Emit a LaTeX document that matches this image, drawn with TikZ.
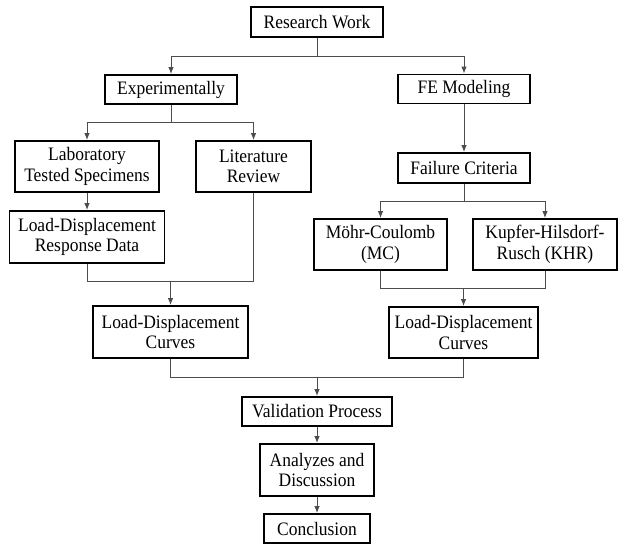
\documentclass[tikz,border=0pt]{standalone}
\usepackage{fontspec}
\setmainfont{Liberation Serif}[FakeStretch=0.92]
\usetikzlibrary{arrows.meta}
\tikzset{
  box/.style={draw=black, line width=1.8pt, inner sep=0pt, align=center,
    font=\fontsize{19}{20.5}\selectfont},
  conn/.style={draw=black!70, line width=1pt},
  arr/.style={conn, -{Latex[length=7pt,width=5.5pt]}}
}
\begin{document}
\begin{tikzpicture}[x=1pt,y=-1pt]
\useasboundingbox (0,0) rectangle (618,544);
\node[box, minimum width=132pt, minimum height=30pt] (rw) at (317,22) {Research Work};
\node[box, minimum width=132pt, minimum height=29pt] (exp) at (171,89.5) {Experimentally};
\node[box, minimum width=132pt, minimum height=29pt] (fem) at (464,89) {FE Modeling};
\node[box, minimum width=144pt, minimum height=51pt] (lab) at (87,166.5) {Laboratory\\Tested Specimens};
\node[box, minimum width=115pt, minimum height=51pt] (lit) at (253.5,166.5) {Literature\\Review};
\node[box, minimum width=132pt, minimum height=30pt] (fc) at (464,168) {Failure Criteria};
\node[box, minimum width=155pt, minimum height=52pt] (ldrd) at (87,237) {Load-Displacement\\Response Data};
\node[box, minimum width=133pt, minimum height=51pt] (mc) at (380.5,244.5) {Möhr-Coulomb\\(MC)};
\node[box, minimum width=144pt, minimum height=51pt] (khr) at (545,244.5) {Kupfer-Hilsdorf-\\Rusch (KHR)};
\node[box, minimum width=155pt, minimum height=52pt] (ldcl) at (170.5,332) {Load-Displacement\\Curves};
\node[box, minimum width=149pt, minimum height=51pt] (ldcr) at (463.5,332.5) {Load-Displacement\\Curves};
\node[box, minimum width=150pt, minimum height=29pt] (val) at (317,411.5) {Validation Process};
\node[box, minimum width=114pt, minimum height=52pt] (ana) at (317,470) {Analyzes and\\Discussion};
\node[box, minimum width=106pt, minimum height=29pt] (con) at (317,528.5) {Conclusion};

\coordinate (j1) at (317,56);
\coordinate (j2) at (171,122.5);
\coordinate (j3) at (170.5,281);
\coordinate (j4) at (464,201);
\coordinate (j5) at (463.5,288);
\coordinate (j6) at (317,377);

\draw[conn] (rw.south) -- (j1);
\draw[arr] (j1) -| (exp.north);
\draw[arr] (j1) -| (fem.north);
\draw[conn] (exp.south) -- (j2);
\draw[arr] (j2) -| (lab.north);
\draw[arr] (j2) -| (lit.north);
\draw[arr] (lab.south) -- (ldrd.north);
\draw[conn] (ldrd.south) |- (j3);
\draw[conn] (lit.south) |- (j3);
\draw[arr] (j3) -- (ldcl.north);
\draw[arr] (fem.south) -- (fc.north);
\draw[conn] (fc.south) -- (j4);
\draw[arr] (j4) -| (mc.north);
\draw[arr] (j4) -| (khr.north);
\draw[conn] (mc.south) |- (j5);
\draw[conn] (khr.south) |- (j5);
\draw[arr] (j5) -- (ldcr.north);
\draw[conn] (ldcl.south) |- (j6);
\draw[conn] (ldcr.south) |- (j6);
\draw[arr] (j6) -- (val.north);
\draw[arr] (val.south) -- (ana.north);
\draw[arr] (ana.south) -- (con.north);
\end{tikzpicture}
\end{document}
